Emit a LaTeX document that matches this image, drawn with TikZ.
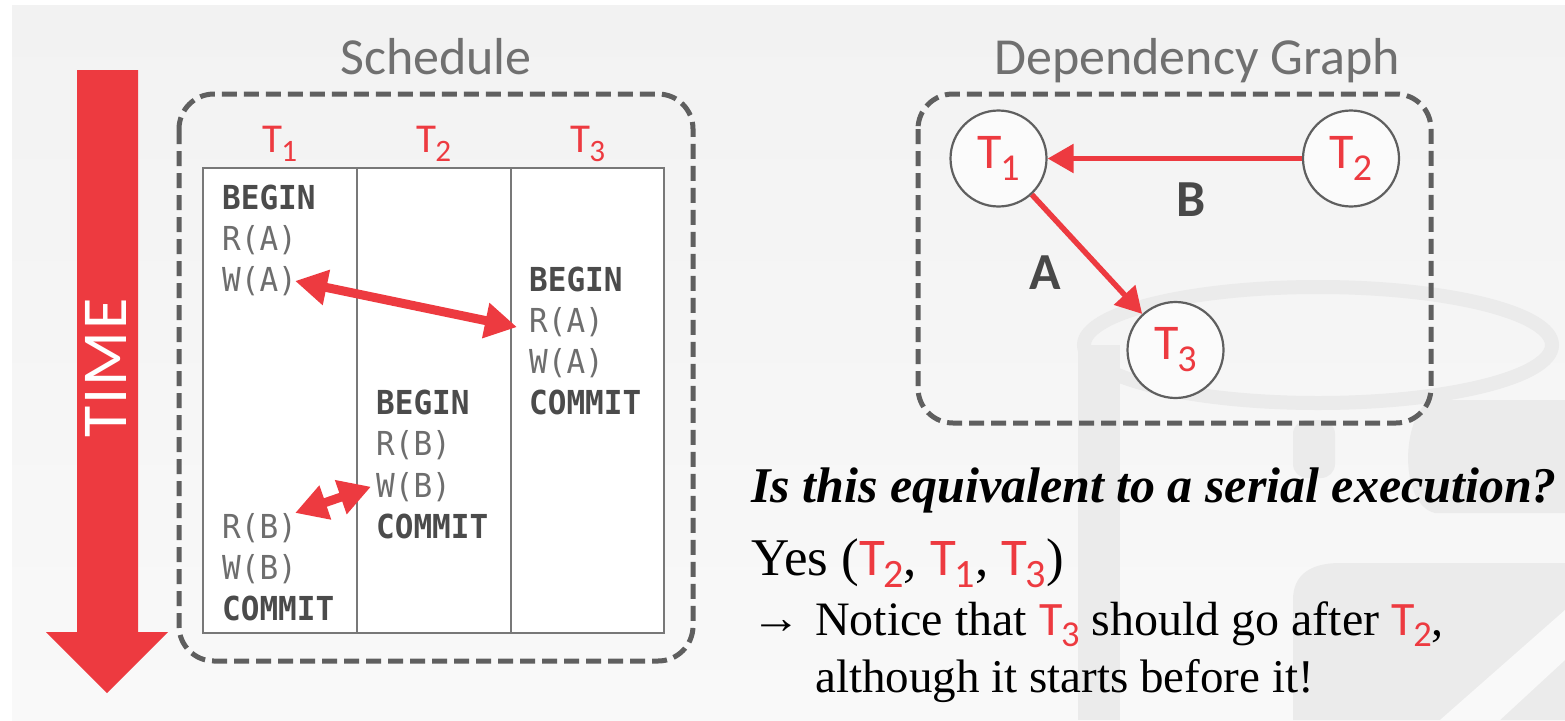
\documentclass[tikz,border=0pt]{standalone}
\usepackage{fontspec}
\usetikzlibrary{arrows.meta}
\setmainfont{Liberation Serif}
\newfontfamily\sansf{Carlito}
\newfontfamily\monof{DejaVu Sans Mono}[FakeStretch=0.94]
\definecolor{dbred}{RGB}{237,58,64}
\definecolor{boxgray}{RGB}{95,95,95}
\definecolor{tabgray}{RGB}{120,120,120}
\definecolor{titlegray}{RGB}{112,112,112}
\definecolor{kwgray}{RGB}{75,75,75}
\definecolor{opgray}{RGB}{110,110,110}
\definecolor{lblgray}{RGB}{72,72,72}
\definecolor{bgtop}{RGB}{242,242,242}
\definecolor{bgbot}{RGB}{249,249,249}
\definecolor{wmgray}{RGB}{235,235,235}
\definecolor{circfill}{RGB}{251,251,251}
\newcommand\Tx[1]{{\color{dbred}\sansf T\kern-0.03em\raisebox{-0.24em}{\scalebox{0.76}{#1}}}}
\tikzset{
  dbox/.style={draw=boxgray, line width=5pt, dash pattern=on 15pt off 7pt, rounded corners=35pt},
  tabline/.style={draw=tabgray, line width=2pt},
  opline/.style={anchor=base west, inner sep=0pt, text=opgray, font=\monof\fontsize{33}{36}\selectfont},
  kwline/.style={anchor=base west, inner sep=0pt, text=kwgray, font=\monof\bfseries\fontsize{33}{36}\selectfont},
  colhead/.style={anchor=base, inner sep=0pt, font=\fontsize{41}{44}\selectfont},
  titletext/.style={anchor=base, inner sep=0pt, text=titlegray, font=\sansf\fontsize{52}{56}\selectfont},
  dblarrow/.style={draw=dbred, line width=9pt, {Triangle[length=32pt,width=34pt]}-{Triangle[length=32pt,width=34pt]}},
  garrow/.style={draw=dbred, line width=5.5pt, -{Triangle[length=26pt,width=28pt]}},
  tnode/.style={circle, draw=boxgray, line width=2.2pt, fill=circfill, minimum size=96pt, inner sep=0pt, font=\fontsize{50}{54}\selectfont},
  edgelbl/.style={inner sep=0pt, text=lblgray, font=\sansf\bfseries\fontsize{52}{56}\selectfont},
  serifline/.style={anchor=base west, inner sep=0pt, text=black}
}
\begin{document}
\begin{tikzpicture}[x=1pt,y=-1pt]
\useasboundingbox (0,0) rectangle (1565,720);
% background
\fill[white] (0,0) rectangle (1565,720);
\shade[top color=bgtop, bottom color=bgbot] (12,5) rectangle (1565,720);
% watermark (faint database logo)
\begin{scope}
\clip (12,5) rectangle (1565,720);
\draw[wmgray, line width=14pt] (1318,345) ellipse [x radius=234, y radius=58];
\fill[wmgray] (1078,345) rectangle (1120,720);
\fill[wmgray, rounded corners=14pt] (1293,420) rectangle (1335,478);
\fill[wmgray] (1565,400) -- (1430,400) .. controls (1400,420) and (1400,505) .. (1435,513) -- (1565,513) -- cycle;
\fill[wmgray] (1293,720) -- (1293,600) .. controls (1293,575) and (1310,563) .. (1340,563) -- (1565,563) -- (1565,720) -- cycle;
\fill[bgbot] (1440,720) -- (1565,610) -- (1565,660) -- (1500,720) -- cycle;
\end{scope}
% TIME arrow
\fill[dbred] (77,70) -- (138,70) -- (138,632) -- (168,632) -- (107,693) -- (46,632) -- (77,632) -- cycle;
\node[rotate=90, text=white, inner sep=0pt, font=\sansf\fontsize{64}{68}\selectfont] (time) at (106,368) {T\kern2pt I\kern2pt M\kern2pt E};
% Schedule
\node[titletext] (schedtitle) at (436,74) {Schedule};
\draw[dbox] (179,94) rectangle (693,661);
\draw[tabline, fill=white] (203,168) rectangle (664,633);
\draw[tabline] (357,168) -- (357,633);
\draw[tabline] (511,168) -- (511,633);
\node[colhead] (h1) at (280,152) {\Tx{1}};
\node[colhead] (h2) at (434,152) {\Tx{2}};
\node[colhead] (h3) at (588,152) {\Tx{3}};
% column 1
\node[kwline] (c1a) at (222,{209+41.15*0}) {BEGIN};
\node[opline] (c1b) at (222,{209+41.15*1}) {R(A)};
\node[opline] (c1c) at (222,{209+41.15*2}) {W(A)};
\node[opline] (c1d) at (222,{209+41.15*8}) {R(B)};
\node[opline] (c1e) at (222,{209+41.15*9}) {W(B)};
\node[kwline] (c1f) at (222,{209+41.15*10}) {COMMIT};
% column 2
\node[kwline] (c2a) at (376,{209+41.15*5}) {BEGIN};
\node[opline] (c2b) at (376,{209+41.15*6}) {R(B)};
\node[opline] (c2c) at (376,{209+41.15*7}) {W(B)};
\node[kwline] (c2d) at (376,{209+41.15*8}) {COMMIT};
% column 3
\node[kwline] (c3a) at (529,{209+41.15*2}) {BEGIN};
\node[opline] (c3b) at (529,{209+41.15*3}) {R(A)};
\node[opline] (c3c) at (529,{209+41.15*4}) {W(A)};
\node[kwline] (c3d) at (529,{209+41.15*5}) {COMMIT};
% conflict arrows
\draw[dblarrow] ([xshift=-2pt]c1c.east) -- ([xshift=-12pt,yshift=-5pt]c3b.west);
\draw[dblarrow] ([xshift=-2pt]c1d.north east) -- ([xshift=-5pt]c2c.west);
% Dependency graph
\node[titletext] (graphtitle) at (1197,74) {Dependency Graph};
\draw[dbox] (918,94) rectangle (1431,423);
\node[tnode] (t1) at (998.5,158.5) {\Tx{1}};
\node[tnode] (t2) at (1351,158.5) {\Tx{2}};
\node[tnode] (t3) at (1175.5,350) {\Tx{3}};
\draw[garrow] (t2) -- (t1);
\draw[garrow] (t1) -- (t3);
\node[edgelbl] (lblb) at (1191,200) {B};
\node[edgelbl] (lbla) at (1045,273) {A};
% question text
\node[serifline, font=\bfseries\itshape\fontsize{50}{56}\selectfont] (q) at (751,502) {Is this equivalent to a serial execution?};
\node[serifline, font=\fontsize{53}{58}\selectfont] (yes) at (751,575) {Yes (\Tx{2}, \Tx{1}, \Tx{3})};
\node[serifline, font=\fontsize{46}{50}\selectfont] (arr) at (751,633) {\scalebox{1.08}[1]{→}};
\node[serifline, font=\fontsize{48}{52}\selectfont] (note1) at (815,635) {Notice that \Tx{3} should go after \Tx{2},};
\node[serifline, font=\fontsize{47}{52}\selectfont] (note2) at (815,692) {although it starts before it!};
\end{tikzpicture}
\end{document}
